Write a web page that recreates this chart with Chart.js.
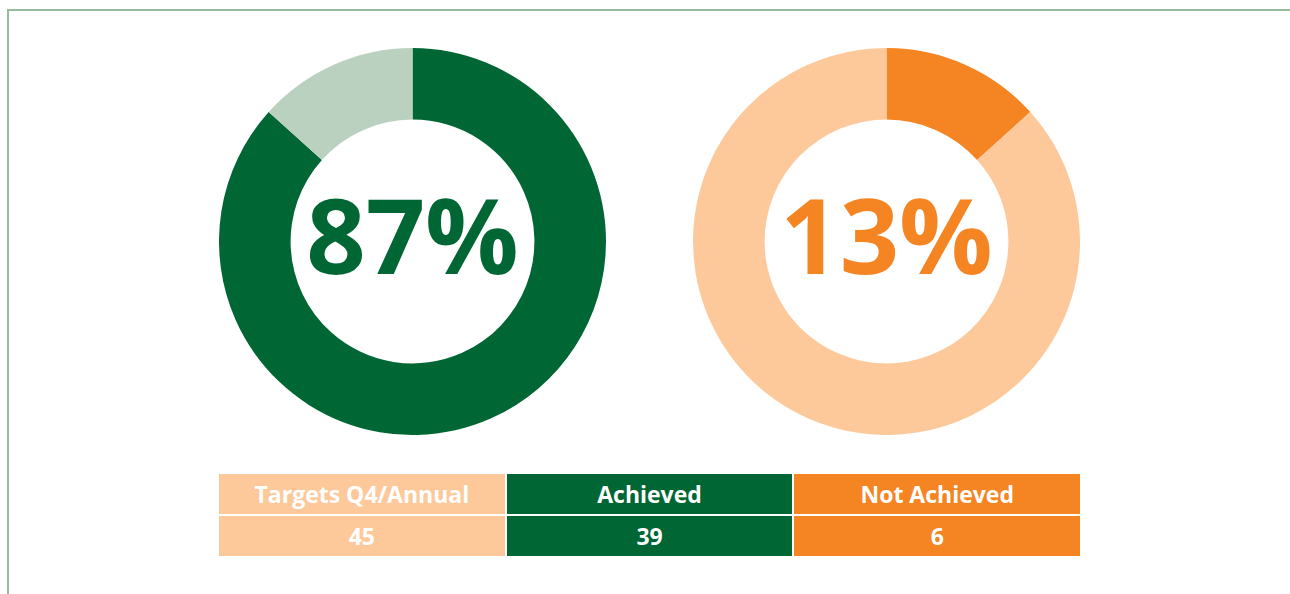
<!DOCTYPE html>
<html>
<head>
<meta charset="utf-8">
<script src="https://cdn.jsdelivr.net/npm/chart.js@4.4.0/dist/chart.umd.min.js"></script>
<style>
  body { margin: 0; background: #fff; width: 1290px; height: 594px; overflow: hidden; font-family: "Open Sans", sans-serif; }
  .frame { position: absolute; left: 7px; top: 9px; width: 1290px; height: 600px; border-left: 2px solid #94bb9e; border-top: 2px solid #94bb9e; }
  .donut { position: absolute; top: 48px; width: 387px; height: 387px; }
  #tbl { position: absolute; left: 219px; top: 474px; border-collapse: separate; border-spacing: 2px; margin: -2px; }
  #tbl td { width: 285.7px; height: 40px; padding: 0; text-align: center; color: #fff; font-weight: 700; font-size: 23px; }
</style>
</head>
<body>
<div class="frame"></div>
<div class="donut" style="left:219px"><canvas id="achieved"></canvas></div>
<div class="donut" style="left:693px"><canvas id="notAchieved"></canvas></div>
<table id="tbl"><tr id="headRow"></tr><tr id="valRow"></tr></table>
<script>
// table data
const headers = ['Targets Q4/Annual', 'Achieved', 'Not Achieved'];
const counts = [45, 39, 6];
const cellColors = ['#fdc99b', '#006633', '#f58423'];

// doughnut data (targets achieved / not achieved)
const achievedSplit = [39, 6];
const notAchievedSplit = [6, 39];

const centerText = {
    id: 'centerText',
    afterDraw(chart, args, opts) {
        const { ctx, chartArea } = chart;
        const cx = (chartArea.left + chartArea.right) / 2;
        const cy = (chartArea.top + chartArea.bottom) / 2;
        const d = chart.data.datasets[0].data;
        const pct = Math.round(d[0] / (d[0] + d[1]) * 100);
        ctx.save();
        ctx.font = '700 104px "Open Sans", sans-serif';
        ctx.fillStyle = opts.color;
        ctx.textAlign = 'center';
        ctx.textBaseline = 'middle';
        ctx.fillText(pct + '%', cx, cy + 3);
        ctx.restore();
    }
};

function makeDonut(id, values, colors, textColor) {
    new Chart(document.getElementById(id), {
        type: 'doughnut',
        data: {
            labels: ['a', 'b'],
            datasets: [{ data: values, backgroundColor: colors, borderWidth: 0 }]
        },
        options: {
            responsive: true,
            maintainAspectRatio: false,
            animation: false,
            cutout: '63%',
            layout: { padding: 0 },
            plugins: {
                legend: { display: false },
                tooltip: { enabled: false },
                centerText: { color: textColor }
            }
        },
        plugins: [centerText]
    });
}

makeDonut('achieved', achievedSplit, ['#006633', '#bbd1c0'], '#006633');
makeDonut('notAchieved', notAchievedSplit, ['#f58423', '#fdc99b'], '#f58423');

const headRow = document.getElementById('headRow');
const valRow = document.getElementById('valRow');
headers.forEach((h, i) => {
    const td = document.createElement('td');
    td.textContent = h;
    td.style.background = cellColors[i];
    headRow.appendChild(td);
    const tv = document.createElement('td');
    tv.textContent = counts[i];
    tv.style.background = cellColors[i];
    valRow.appendChild(tv);
});
</script>
</body>
</html>
